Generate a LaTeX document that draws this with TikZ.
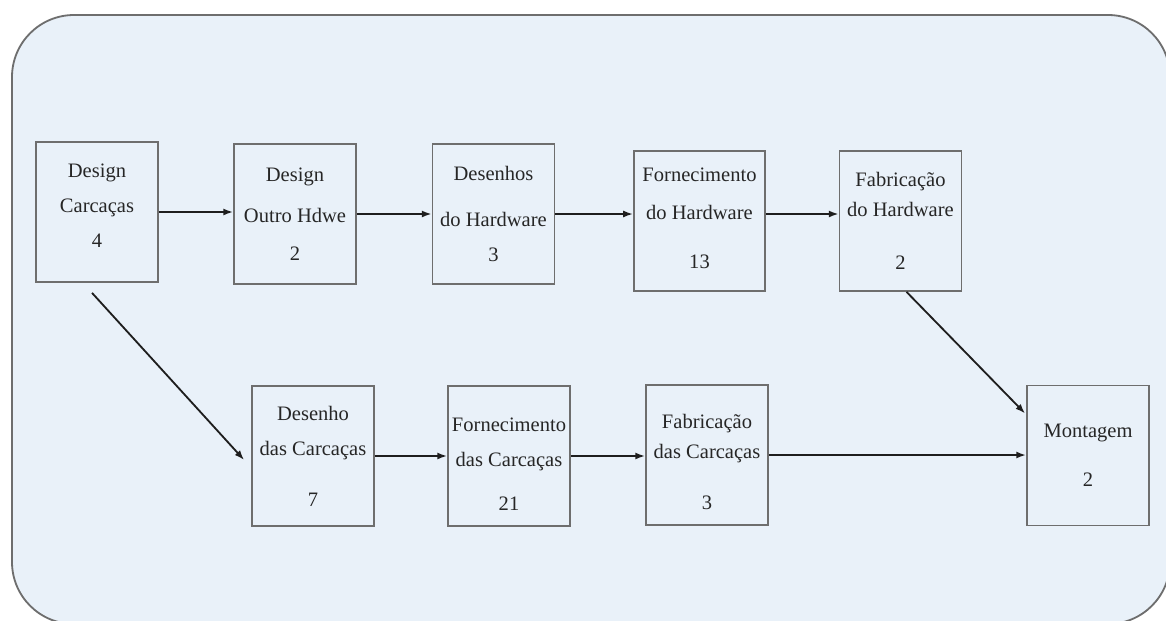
\documentclass[tikz,border=0pt]{standalone}
\usepackage{fontspec}
\setmainfont{Liberation Serif}
\usetikzlibrary{arrows.meta}
\definecolor{fundo}{HTML}{E9F1F9}
\definecolor{borda}{HTML}{6E6E6E}
\definecolor{traco}{HTML}{1E1E1E}
\tikzset{
  caixa/.style={draw=borda,line width=1.2pt,minimum width=3.05cm,minimum height=3.5cm,
    inner sep=0pt,align=center,text=black!85,font=\fontsize{14.6}{25}\selectfont},
  seta/.style={draw=traco,line width=1.3pt,-{Latex[length=7pt,width=5pt]}}
}
\begin{document}
\begin{tikzpicture}[x=0.025cm,y=-0.025cm]
    \useasboundingbox (0,0) rectangle (1166,620);
    %moldura
    \draw [draw=borda,fill=fundo,line width=1.3pt,rounded corners=1.55cm] (12,15) rectangle (1170,624);
    %linha de cima
    \node [caixa] (dc) at (97,212) {Design\\Carcaças\\4\rule[-9pt]{0pt}{9pt}};
    \node [caixa] (dh) at (295,214) {Design\\[4pt]Outro Hdwe\\[2pt]2};
    \node [caixa] (dsh) at (493.5,214) {Desenhos\\[8pt]do Hardware\\3};
    \node [caixa,minimum width=3.28cm] (fh) at (699.5,221) {Fornecimento\\[2pt]do Hardware\\[10pt]13\rule[-4pt]{0pt}{4pt}};
    \node [caixa] (fbh) at (900.5,221) {Fabricação\\[-3.5pt]do Hardware\\[13pt]2};
    %linha de baixo
    \node [caixa] (dsc) at (313,456) {Desenho\\das Carcaças\\[11pt]7};
    \node [caixa] (fc) at (509,456) {\rule{0pt}{21pt}Fornecimento\\das Carcaças\\[6pt]21};
    \node [caixa] (fbc) at (707,455) {\rule{0pt}{20pt}Fabricação\\[-4pt]das Carcaças\\[11pt]3};
    \node [caixa] (mt) at (1088,455.5) {Montagem\\[10pt]2};
    %setas
    \draw [seta] (dc.east) -- (dc.east -| dh.west);
    \draw [seta] (dh.east) -- (dh.east -| dsh.west);
    \draw [seta] (dsh.east) -- (dsh.east -| fh.west);
    \draw [seta] (fh.east |- dsh.east) -- (fbh.west |- dsh.east);
    \draw [seta] (dsc.east) -- (dsc.east -| fc.west);
    \draw [seta] (fc.east) -- (fc.east -| fbc.west);
    \draw [seta,line width=2pt] (fbc.east) -- (fbc.east -| mt.west);
    \draw [seta] ([shift={(-5,10)}]dc.south) -- ([shift={(-7,4)}]dsc.west);
    \draw [seta] ([shift={(6,0)}]fbh.south) -- ([shift={(-1,-42)}]mt.west);
\end{tikzpicture}
\end{document}
